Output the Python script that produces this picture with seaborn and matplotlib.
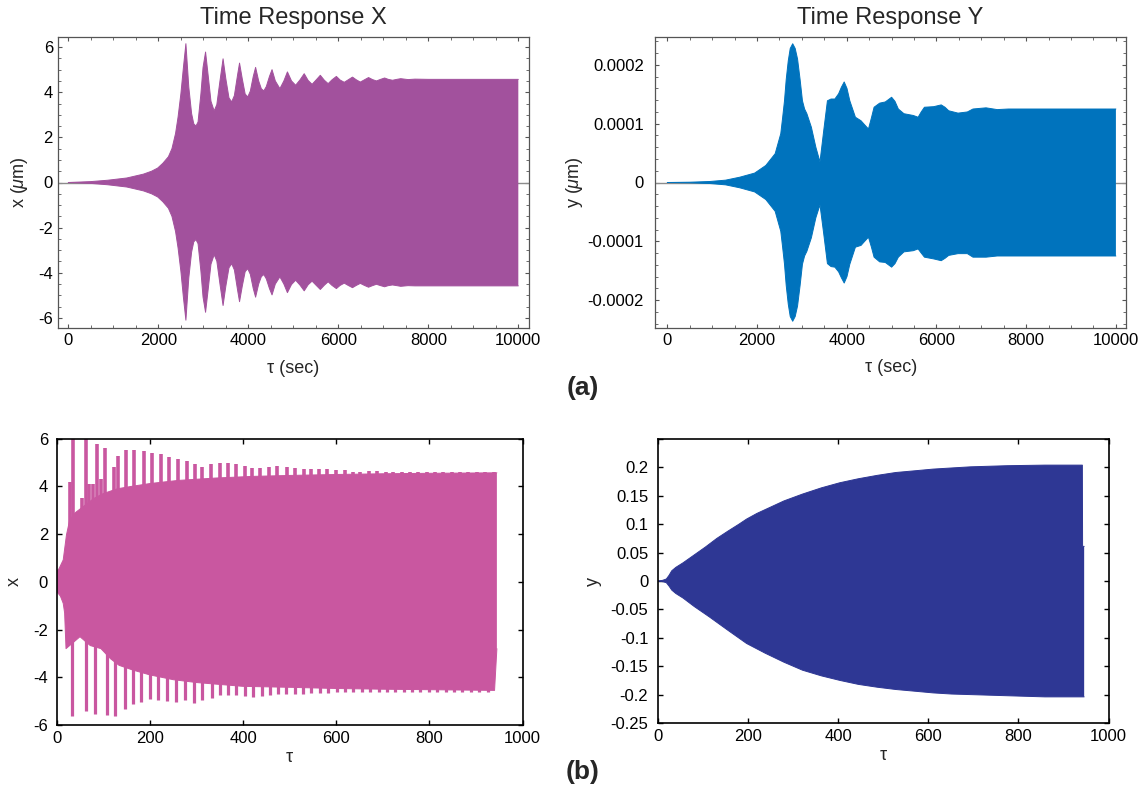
import numpy as np
import pandas as pd
import matplotlib
matplotlib.use("Agg")
import matplotlib.pyplot as plt
import seaborn as sns
from matplotlib.ticker import FixedLocator, FixedFormatter, MultipleLocator

# ---------------- data ----------------
# (a) left: envelope of x(t) in micrometres, t in seconds
xa_tau = [0, 500, 874, 1300, 1668, 1850, 1986, 2100, 2224, 2303, 2383, 2439, 2502, 2558,
          2613, 2677, 2740, 2788, 2836, 2883, 2947, 2994, 3050, 3110, 3170, 3241, 3300,
          3370, 3439, 3500, 3570, 3630, 3690, 3760, 3805, 3865, 3930, 3987, 4045, 4110,
          4162, 4230, 4290, 4345, 4400, 4470, 4527, 4600, 4702, 4790, 4869, 4960, 5052,
          5150, 5242, 5330, 5417, 5510, 5600, 5690, 5774, 5860, 5957, 6040, 6132, 6220,
          6315, 6400, 6489, 6580, 6672, 6760, 6847, 6940, 7029, 7110, 7204, 7300, 7387,
          7550, 7704, 8000, 10000]
xa_upper = [0.0, 0.04, 0.1, 0.2, 0.37, 0.5, 0.64, 0.85, 1.14, 1.5, 2.17, 2.9, 3.94, 5.1,
            6.15, 4.23, 3.05, 2.6, 2.5, 2.68, 3.94, 5.1, 5.78, 4.7, 3.6, 3.17, 3.45,
            4.5, 5.48, 4.6, 3.75, 3.57, 3.85, 4.75, 5.29, 4.6, 3.92, 3.79, 4.05, 4.7,
            5.1, 4.5, 4.15, 4.06, 4.25, 4.7, 5.0, 4.5, 4.16, 4.5, 4.9, 4.5, 4.31,
            4.55, 4.82, 4.52, 4.35, 4.55, 4.75, 4.53, 4.38, 4.55, 4.7, 4.54, 4.44, 4.55,
            4.67, 4.55, 4.45, 4.55, 4.65, 4.56, 4.5, 4.57, 4.63, 4.57, 4.53, 4.57, 4.6,
            4.56, 4.58, 4.57, 4.57]
xa_lower = [0.0, -0.04, -0.1, -0.2, -0.37, -0.5, -0.64, -0.85, -1.14, -1.5, -2.17, -2.9, -3.94, -5.1,
            -6.1, -4.23, -3.08, -2.63, -2.53, -2.71, -3.94, -5.08, -5.75, -4.7, -3.62, -3.2, -3.48,
            -4.5, -5.45, -4.6, -3.78, -3.6, -3.87, -4.75, -5.28, -4.6, -3.95, -3.82, -4.07, -4.7,
            -5.08, -4.5, -4.17, -4.08, -4.27, -4.7, -4.98, -4.5, -4.18, -4.5, -4.88, -4.52, -4.33,
            -4.55, -4.8, -4.53, -4.37, -4.56, -4.74, -4.55, -4.4, -4.56, -4.7, -4.56, -4.46, -4.56,
            -4.66, -4.56, -4.47, -4.56, -4.64, -4.57, -4.51, -4.57, -4.62, -4.57, -4.54, -4.57, -4.6,
            -4.57, -4.58, -4.58, -4.58]

# (a) right: envelope of y(t), in units of 1e-4 micrometres
ya_tau = [0, 500, 948, 1300, 1614, 1947, 2196, 2404, 2529, 2570, 2612, 2650, 2696, 2740,
          2795, 2850, 2903, 2960, 3012, 3060, 3111, 3211, 3311, 3403, 3486, 3569, 3650,
          3735, 3819, 3880, 3943, 4005, 4068, 4193, 4318, 4400, 4484, 4550, 4609, 4734,
          4859, 5000, 5075, 5150, 5275, 5483, 5591, 5660, 5732, 5940, 6106, 6190, 6273,
          6481, 6689, 6814, 7105, 7354, 7604, 8020, 10000]
ya_upper_e4 = [0.0, 0.005, 0.017, 0.04, 0.09, 0.16, 0.29, 0.49, 0.83, 1.1, 1.39, 1.75, 2.07, 2.28,
               2.36, 2.28, 2.1, 1.75, 1.39, 1.25, 1.17, 0.94, 0.6, 0.35, 0.88, 1.39, 1.42,
               1.42, 1.51, 1.62, 1.71, 1.6, 1.39, 1.11, 1.05, 0.98, 0.91, 1.1, 1.28, 1.35,
               1.37, 1.45, 1.38, 1.25, 1.17, 1.14, 1.11, 1.2, 1.28, 1.29, 1.32, 1.28, 1.22,
               1.18, 1.2, 1.25, 1.27, 1.24, 1.25, 1.25, 1.25]
ya_lower_e4 = [0.0, -0.005, -0.017, -0.04, -0.09, -0.16, -0.29, -0.49, -0.83, -1.1, -1.39, -1.75, -2.07, -2.28,
               -2.36, -2.28, -2.1, -1.75, -1.39, -1.25, -1.17, -0.94, -0.6, -0.38, -0.87, -1.38, -1.43,
               -1.44, -1.52, -1.62, -1.71, -1.6, -1.39, -1.1, -1.07, -1.0, -0.93, -1.1, -1.27, -1.35,
               -1.36, -1.44, -1.38, -1.27, -1.18, -1.16, -1.13, -1.2, -1.27, -1.3, -1.33, -1.29, -1.24,
               -1.21, -1.21, -1.27, -1.27, -1.25, -1.25, -1.25, -1.25]

# (b) left: x(tau) -- dense body plus the periodic spikes above and below it
xb_body_up_tau = [0, 5, 14, 21, 28, 40, 60, 80, 100, 130, 160, 200, 260, 340, 420,
                  500, 600, 700, 800, 945]
xb_body_up = [0.45, 0.55, 0.92, 1.97, 2.6, 2.9, 3.2, 3.5, 3.7, 3.9, 4.0, 4.12, 4.25, 4.35,
              4.42, 4.46, 4.5, 4.53, 4.55, 4.57]
xb_body_lo_tau = [0, 8, 14, 17, 20, 50, 72, 95, 116, 134, 164, 200, 250, 300, 350, 400,
                  500, 600, 700, 800, 940, 945]
xb_body_lo = [-0.4, -0.6, -0.9, -1.3, -2.8, -2.3, -2.67, -2.8, -3.23, -3.5, -3.7, -3.9,
              -4.1, -4.22, -4.3, -4.38, -4.42, -4.47, -4.5, -4.52, -4.55, -2.8]
xb_spike_up_tau = [36, 62, 86, 104, 131, 148, 167, 187, 205, 224, 241, 261, 279, 297, 313,
                   331, 350, 368, 386, 404, 420, 437, 456, 474, 494, 512, 530, 547, 563, 581,
                   599, 618, 636, 652, 670, 688, 706, 723, 741, 758, 776, 794, 812, 830, 848,
                   866, 884, 902, 920, 938]
xb_spike_up = [6.0, 6.0, 5.78, 5.6, 5.27, 5.51, 5.53, 5.47, 5.4, 5.35, 5.23, 5.16, 5.05, 4.92, 4.82,
               4.92, 5.0, 4.98, 4.94, 4.86, 4.77, 4.77, 4.83, 4.87, 4.8, 4.77, 4.72, 4.72, 4.72, 4.72,
               4.68, 4.68, 4.62, 4.62, 4.65, 4.65, 4.62, 4.6, 4.62, 4.62, 4.62, 4.6, 4.6, 4.6, 4.6,
               4.6, 4.6, 4.6, 4.6, 4.6]
xb_shoulder_tau = [29, 55, 69, 79, 96, 122]
xb_shoulder = [4.2, 3.5, 4.1, 4.1, 4.3, 4.8]
xb_spike_lo_tau = [32, 63, 82, 109, 126, 146, 164, 182, 200, 218, 237, 257, 275, 294, 313,
                   334, 350, 368, 386, 404, 422, 441, 457, 475, 493, 511, 529, 547, 565, 583,
                   601, 619, 637, 655, 673, 691, 709, 727, 745, 763, 781, 799, 817, 835, 853,
                   871, 889, 907, 925]
xb_spike_lo = [-5.62, -5.42, -5.52, -5.59, -5.62, -5.34, -5.1, -5.03, -4.92, -4.97, -4.99, -5.03,
               -4.97, -5.06, -4.97, -4.87, -4.76, -4.76, -4.76, -4.8, -4.83, -4.79, -4.76, -4.69,
               -4.69, -4.69, -4.69, -4.66, -4.66, -4.64, -4.62, -4.62, -4.62, -4.6, -4.6, -4.6,
               -4.6, -4.6, -4.6, -4.6, -4.6, -4.6, -4.6, -4.6, -4.6, -4.6, -4.6, -4.6, -4.6]

# (b) right: envelope of y(tau)
yb_up_tau = [0, 10, 19, 25, 31, 40, 56, 81, 106, 131, 156, 180, 197, 220, 250, 280, 321,
             363, 404, 445, 487, 528, 570, 611, 652, 694, 735, 776, 859, 942, 942.5, 946]
yb_upper = [0.0, 0.001, 0.0035, 0.01, 0.018, 0.024, 0.032, 0.046, 0.06, 0.075, 0.088, 0.1,
            0.109, 0.119, 0.13, 0.141, 0.153, 0.164, 0.173, 0.18, 0.186, 0.191, 0.194, 0.197,
            0.199, 0.201, 0.202, 0.203, 0.204, 0.204, 0.061, 0.061]
yb_lo_tau = [0, 10, 19, 25, 31, 40, 56, 81, 114, 156, 197, 238, 280, 321, 363, 404, 445,
             487, 528, 570, 611, 652, 694, 776, 859, 946]
yb_lower = [0.0, -0.001, -0.003, -0.009, -0.016, -0.022, -0.03, -0.045, -0.063, -0.087, -0.11,
            -0.127, -0.143, -0.157, -0.167, -0.175, -0.182, -0.187, -0.191, -0.194, -0.197,
            -0.199, -0.2, -0.202, -0.204, -0.204]

# tick labels
xa_ticks = [0, 2000, 4000, 6000, 8000, 10000]
xa_ticklabels = ["0", "2000", "4000", "6000", "8000", "10000"]
xa_yticks = [-6, -4, -2, 0, 2, 4, 6]
xa_yticklabels = ["-6", "-4", "-2", "0", "2", "4", "6"]
ya_yticks = [-0.0002, -0.0001, 0, 0.0001, 0.0002]
ya_yticklabels = ["-0.0002", "-0.0001", "0", "0.0001", "0.0002"]
b_xticks = [0, 200, 400, 600, 800, 1000]
b_xticklabels = ["0", "200", "400", "600", "800", "1000"]
xb_yticks = [-6, -4, -2, 0, 2, 4, 6]
xb_yticklabels = ["-6", "-4", "-2", "0", "2", "4", "6"]
yb_yticks = [-0.25, -0.2, -0.15, -0.1, -0.05, 0, 0.05, 0.1, 0.15, 0.2]
yb_yticklabels = ["-0.25", "-0.2", "-0.15", "-0.1", "-0.05", "0", "0.05", "0.1", "0.15", "0.2"]

# ---------------- style ----------------
sns.set_theme(style="ticks")
plt.rcParams.update({
    "font.family": ["Liberation Sans", "DejaVu Sans"],
    "axes.unicode_minus": False,
    "mathtext.fontset": "custom",
    "mathtext.rm": "Liberation Sans",
    "mathtext.it": "Liberation Sans:italic",
    "mathtext.bf": "Liberation Sans:bold",
})

C_XA = "#a2519d"
C_YA = "#0073bd"
C_XB = "#c957a0"
C_YB = "#2e3794"

W, H = 1145, 789
fig = plt.figure(figsize=(W / 100, H / 100), dpi=100)


def axes_px(l, t, r, b):
    return fig.add_axes([l / W, 1 - b / H, (r - l) / W, (b - t) / H])


def band(ax, tau_up, up, tau_lo, lo, color):
    tau_up, up, tau_lo, lo = map(np.asarray, (tau_up, up, tau_lo, lo))
    poly_x = np.r_[tau_up, tau_lo[::-1]]
    poly_y = np.r_[up, lo[::-1]]
    ax.fill(poly_x, poly_y, color=color, lw=0, zorder=2)
    df = pd.DataFrame({
        "tau": np.r_[tau_up, tau_lo],
        "val": np.r_[up, lo],
        "edge": ["upper"] * len(tau_up) + ["lower"] * len(tau_lo),
    })
    sns.lineplot(data=df, x="tau", y="val", units="edge", estimator=None, sort=False,
                 color=color, lw=0.7, ax=ax, legend=False, zorder=2)


def style_a(ax):
    for s in ax.spines.values():
        s.set_color("#555555")
        s.set_linewidth(0.9)
    ax.tick_params(which="both", direction="in", top=True, right=True,
                   color="#555555", labelsize=12, labelcolor="black")
    ax.tick_params(which="major", length=3.2, width=0.8)
    ax.tick_params(which="minor", length=2.0, width=0.6)
    ax.tick_params(axis="x", pad=3.5)


def style_b(ax):
    for s in ax.spines.values():
        s.set_color("black")
        s.set_linewidth(1.2)
    ax.tick_params(which="both", direction="in", top=True, right=True,
                   color="black", labelsize=12, labelcolor="black",
                   length=3.8, width=1.0)
    ax.tick_params(axis="x", pad=4)
    ax.minorticks_off()


def set_labels(ax, xl, yl, xpos, ypos, size=13):
    ax.set_xlabel(xl, fontsize=size)
    ax.set_ylabel(yl, fontsize=size)
    ax.xaxis.set_label_coords(xpos[0] / W, 1 - xpos[1] / H, transform=fig.transFigure)
    ax.yaxis.set_label_coords(ypos[0] / W, 1 - ypos[1] / H, transform=fig.transFigure)
    ax.xaxis.label.set_verticalalignment("center")
    ax.yaxis.label.set_verticalalignment("center")
    ax.yaxis.label.set_horizontalalignment("center")


# ---------------- (a) left ----------------
ax1 = axes_px(57.7, 36.7, 529.3, 328.3)
ax1.axhline(0, color="#8c8c8c", lw=1.0, zorder=1)
band(ax1, xa_tau, xa_upper, xa_tau, xa_lower, C_XA)
ax1.set_xlim(-236, 10244)
ax1.set_ylim(-6.46, 6.46)
ax1.xaxis.set_major_locator(FixedLocator(xa_ticks))
ax1.xaxis.set_major_formatter(FixedFormatter(xa_ticklabels))
ax1.xaxis.set_minor_locator(MultipleLocator(500))
ax1.yaxis.set_major_locator(FixedLocator(xa_yticks))
ax1.yaxis.set_major_formatter(FixedFormatter(xa_yticklabels))
ax1.yaxis.set_minor_locator(MultipleLocator(0.5))
style_a(ax1)
ax1.tick_params(axis="y", pad=3.4)
set_labels(ax1, "τ (sec)", r"x ($\mu$m)", (293.5, 368), (19.6, 182.5))

# ---------------- (a) right ----------------
ax2 = axes_px(655, 36.7, 1126, 328.3)
ax2.axhline(0, color="#8c8c8c", lw=1.0, zorder=1)
band(ax2, ya_tau, np.array(ya_upper_e4) * 1e-4, ya_tau, np.array(ya_lower_e4) * 1e-4, C_YA)
ax2.set_xlim(-275, 10225)
ax2.set_ylim(-2.48e-4, 2.48e-4)
ax2.xaxis.set_major_locator(FixedLocator(xa_ticks))
ax2.xaxis.set_major_formatter(FixedFormatter(xa_ticklabels))
ax2.xaxis.set_minor_locator(MultipleLocator(500))
ax2.yaxis.set_major_locator(FixedLocator(ya_yticks))
ax2.yaxis.set_major_formatter(FixedFormatter(ya_yticklabels))
ax2.yaxis.set_minor_locator(MultipleLocator(2e-5))
style_a(ax2)
ax2.tick_params(axis="y", pad=8)
set_labels(ax2, "τ (sec)", r"y ($\mu$m)", (891, 367), (575, 182.5))

fig.text(293.5 / W, 1 - 18.3 / H, "Time Response X", fontsize=17, ha="center", va="center")
fig.text(890.5 / W, 1 - 18.3 / H, "Time Response Y", fontsize=17, ha="center", va="center")

# ---------------- (b) left ----------------
ax3 = axes_px(56.7, 438.7, 522.5, 725)
band(ax3, xb_body_up_tau, xb_body_up, xb_body_lo_tau, xb_body_lo, C_XB)
ax3.vlines(xb_spike_up_tau, 0, xb_spike_up, color=C_XB, lw=2.6, zorder=2)
ax3.vlines(xb_shoulder_tau, 0, xb_shoulder, color=C_XB, lw=2.6, zorder=2)
ax3.vlines(xb_spike_lo_tau, xb_spike_lo, 0, color=C_XB, lw=2.3, zorder=2)
ax3.set_xlim(0, 1000)
ax3.set_ylim(-6, 6)
ax3.xaxis.set_major_locator(FixedLocator(b_xticks))
ax3.xaxis.set_major_formatter(FixedFormatter(b_xticklabels))
ax3.yaxis.set_major_locator(FixedLocator(xb_yticks))
ax3.yaxis.set_major_formatter(FixedFormatter(xb_yticklabels))
style_b(ax3)
ax3.tick_params(axis="y", pad=6.2)
set_labels(ax3, "τ", "x", (289.6, 758), (14.3, 581.8))

# ---------------- (b) right ----------------
ax4 = axes_px(657.8, 439, 1108.5, 723)
band(ax4, yb_up_tau, yb_upper, yb_lo_tau, yb_lower, C_YB)
ax4.set_xlim(0, 1000)
ax4.set_ylim(-0.25, 0.25)
ax4.xaxis.set_major_locator(FixedLocator(b_xticks))
ax4.xaxis.set_major_formatter(FixedFormatter(b_xticklabels))
ax4.yaxis.set_major_locator(FixedLocator(yb_yticks + [0.25]))
ax4.yaxis.set_major_formatter(FixedFormatter(yb_yticklabels + [""]))
style_b(ax4)
ax4.tick_params(axis="y", pad=6.8)
set_labels(ax4, "τ", "y", (883, 755), (593.6, 581))

# panel tags
fig.text(582.7 / W, 1 - 388 / H, "(a)", fontsize=19, fontweight="bold", ha="center", va="center")
fig.text(582.4 / W, 1 - 771.5 / H, "(b)", fontsize=19, fontweight="bold", ha="center", va="center")

fig.savefig("out.png", dpi=100, facecolor="white")
